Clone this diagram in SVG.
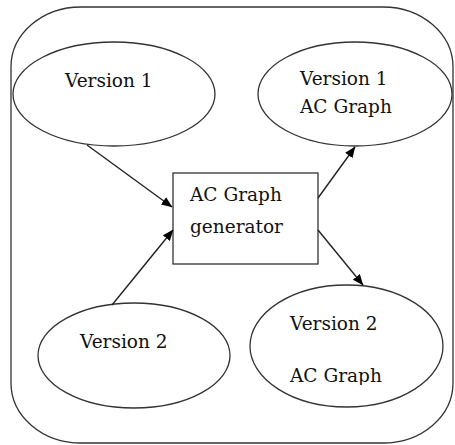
<svg xmlns="http://www.w3.org/2000/svg" width="455" height="445" viewBox="0 0 455 445">
  <defs>
    <marker id="ah" markerWidth="11" markerHeight="9" refX="10.5" refY="4.5" orient="auto" markerUnits="userSpaceOnUse">
      <path d="M0,0 L11,4.5 L0,9 Z" fill="#000"/>
    </marker>
    <clipPath id="clipv2">
      <rect x="250" y="280" width="200" height="105"/>
    </clipPath>
  </defs>
  <style>
    .shape { fill: #fff; stroke: #333; stroke-width: 1.3; }
    .lbl { font-family: "DejaVu Serif", "Liberation Serif", serif; font-size: 18.5px; fill: #111; }
    .conn { stroke: #222; stroke-width: 1.4; fill: none; marker-end: url(#ah); }
  </style>
  <rect width="455" height="445" fill="#fff"/>
  <g id="container">
    <rect class="shape" x="11" y="7" width="442" height="436" rx="70" ry="60"/>
  </g>
  <g id="version1">
    <ellipse class="shape" cx="114" cy="94" rx="101" ry="52"/>
    <text class="lbl" x="65" y="87">Version 1</text>
  </g>
  <g id="version1-ac-graph">
    <ellipse class="shape" cx="355" cy="94" rx="97" ry="52"/>
    <text class="lbl" x="300" y="85">Version 1</text>
    <text class="lbl" x="300" y="113">AC Graph</text>
  </g>
  <g id="generator">
    <rect class="shape" x="173" y="173" width="145" height="91"/>
    <text class="lbl" x="190" y="201">AC Graph</text>
    <text class="lbl" x="190" y="233">generator</text>
  </g>
  <g id="version2">
    <ellipse class="shape" cx="134" cy="355.5" rx="96" ry="52.5"/>
    <text class="lbl" x="80" y="348">Version 2</text>
  </g>
  <g id="version2-ac-graph">
    <ellipse class="shape" cx="346.5" cy="346" rx="96.5" ry="61"/>
    <text class="lbl" x="290" y="330">Version 2</text>
    <text class="lbl" x="290" y="382" clip-path="url(#clipv2)">AC Graph</text>
  </g>
  <g id="connectors">
    <line class="conn" x1="87" y1="145" x2="172" y2="207"/>
    <line class="conn" x1="112" y1="305" x2="173" y2="230"/>
    <line class="conn" x1="318" y1="198" x2="355" y2="147"/>
    <line class="conn" x1="318" y1="230" x2="363" y2="285"/>
  </g>
</svg>
